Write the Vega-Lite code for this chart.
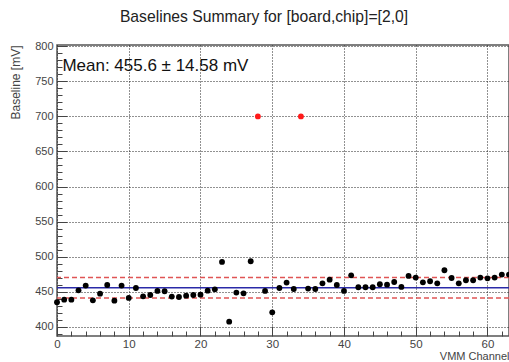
{
  "$schema": "https://vega.github.io/schema/vega-lite/v6.json",
  "width": 452,
  "height": 291,
  "autosize": "none",
  "padding": {"left": 57, "top": 45, "right": 0, "bottom": 26},
  "background": "white",
  "config": {
    "font": "Liberation Sans",
    "view": {"stroke": "#555555", "strokeWidth": 1.5},
    "axis": {"domain": false, "labelFont": "Liberation Sans", "titleFont": "Liberation Sans", "labelColor": "#444444", "titleColor": "#444444", "titleFontWeight": "normal", "tickColor": "#444444", "gridColor": "#222222", "gridDash": [1, 2], "gridWidth": 1, "labelOverlap": false, "labelBound": false, "labelFlush": false, "tickCount": 100}
  },
  "title": {"text": "Baselines Summary for [board,chip]=[2,0]", "font": "Liberation Sans", "fontSize": 15.7, "fontWeight": "normal", "color": "#222222", "anchor": "middle", "dx": -19, "offset": 15},
  "datasets": {
    "baselines": [
      {"channel": 0, "baseline": 434.8, "status": "ok"},
      {"channel": 1, "baseline": 438.6, "status": "ok"},
      {"channel": 2, "baseline": 438.6, "status": "ok"},
      {"channel": 3, "baseline": 451.9, "status": "ok"},
      {"channel": 4, "baseline": 458.6, "status": "ok"},
      {"channel": 5, "baseline": 437.6, "status": "ok"},
      {"channel": 6, "baseline": 447.1, "status": "ok"},
      {"channel": 7, "baseline": 459.5, "status": "ok"},
      {"channel": 8, "baseline": 437.1, "status": "ok"},
      {"channel": 9, "baseline": 458.6, "status": "ok"},
      {"channel": 10, "baseline": 441.0, "status": "ok"},
      {"channel": 11, "baseline": 455.2, "status": "ok"},
      {"channel": 12, "baseline": 443.3, "status": "ok"},
      {"channel": 13, "baseline": 445.2, "status": "ok"},
      {"channel": 14, "baseline": 451.0, "status": "ok"},
      {"channel": 15, "baseline": 450.5, "status": "ok"},
      {"channel": 16, "baseline": 442.9, "status": "ok"},
      {"channel": 17, "baseline": 442.4, "status": "ok"},
      {"channel": 18, "baseline": 444.3, "status": "ok"},
      {"channel": 19, "baseline": 445.2, "status": "ok"},
      {"channel": 20, "baseline": 445.7, "status": "ok"},
      {"channel": 21, "baseline": 451.4, "status": "ok"},
      {"channel": 22, "baseline": 453.3, "status": "ok"},
      {"channel": 23, "baseline": 492.4, "status": "ok"},
      {"channel": 24, "baseline": 407.1, "status": "ok"},
      {"channel": 25, "baseline": 448.6, "status": "ok"},
      {"channel": 26, "baseline": 447.6, "status": "ok"},
      {"channel": 27, "baseline": 493.3, "status": "ok"},
      {"channel": 28, "baseline": 700.0, "status": "bad"},
      {"channel": 29, "baseline": 451.0, "status": "ok"},
      {"channel": 30, "baseline": 420.5, "status": "ok"},
      {"channel": 31, "baseline": 455.2, "status": "ok"},
      {"channel": 32, "baseline": 462.9, "status": "ok"},
      {"channel": 33, "baseline": 453.8, "status": "ok"},
      {"channel": 34, "baseline": 700.0, "status": "bad"},
      {"channel": 35, "baseline": 454.3, "status": "ok"},
      {"channel": 36, "baseline": 453.8, "status": "ok"},
      {"channel": 37, "baseline": 461.9, "status": "ok"},
      {"channel": 38, "baseline": 467.1, "status": "ok"},
      {"channel": 39, "baseline": 459.5, "status": "ok"},
      {"channel": 40, "baseline": 451.0, "status": "ok"},
      {"channel": 41, "baseline": 473.3, "status": "ok"},
      {"channel": 42, "baseline": 456.2, "status": "ok"},
      {"channel": 43, "baseline": 456.2, "status": "ok"},
      {"channel": 44, "baseline": 456.2, "status": "ok"},
      {"channel": 45, "baseline": 460.5, "status": "ok"},
      {"channel": 46, "baseline": 460.0, "status": "ok"},
      {"channel": 47, "baseline": 463.8, "status": "ok"},
      {"channel": 48, "baseline": 456.7, "status": "ok"},
      {"channel": 49, "baseline": 472.4, "status": "ok"},
      {"channel": 50, "baseline": 470.0, "status": "ok"},
      {"channel": 51, "baseline": 463.3, "status": "ok"},
      {"channel": 52, "baseline": 464.8, "status": "ok"},
      {"channel": 53, "baseline": 461.9, "status": "ok"},
      {"channel": 54, "baseline": 480.5, "status": "ok"},
      {"channel": 55, "baseline": 469.5, "status": "ok"},
      {"channel": 56, "baseline": 461.9, "status": "ok"},
      {"channel": 57, "baseline": 466.2, "status": "ok"},
      {"channel": 58, "baseline": 466.2, "status": "ok"},
      {"channel": 59, "baseline": 470.0, "status": "ok"},
      {"channel": 60, "baseline": 469.0, "status": "ok"},
      {"channel": 61, "baseline": 470.0, "status": "ok"},
      {"channel": 62, "baseline": 474.3, "status": "ok"},
      {"channel": 63, "baseline": 474.3, "status": "ok"}
    ],
    "levels": [
      {"level": 455.6, "kind": "mean"},
      {"level": 470.18, "kind": "band"},
      {"level": 441.02, "kind": "band"}
    ],
    "notes": [
      {"channel": 0.75, "baseline": 772, "text": "Mean: 455.6 ± 14.58 mV"}
    ]
  },
  "layer": [
    {
      "data": {"name": "levels"},
      "transform": [{"filter": "datum.kind === 'band'"}],
      "mark": {"type": "rule", "color": "#e05555", "strokeWidth": 1.5, "strokeDash": [5, 3]},
      "encoding": {"y": {"field": "level", "type": "quantitative", "scale": {"domain": [386.7, 801.9], "nice": false, "zero": false}}}
    },
    {
      "data": {"name": "levels"},
      "transform": [{"filter": "datum.kind === 'mean'"}],
      "mark": {"type": "rule", "color": "#2a2aa8", "strokeWidth": 1.5},
      "encoding": {"y": {"field": "level", "type": "quantitative"}}
    },
    {
      "data": {"name": "baselines"},
      "mark": {"type": "circle", "size": 34, "opacity": 1},
      "encoding": {
        "x": {"field": "channel", "type": "quantitative", "scale": {"domain": [0, 63], "nice": false, "zero": false},
          "axis": {"title": "VMM Channel", "titleAnchor": "end", "titleFontSize": 11, "titlePadding": -4, "labelFontSize": 11.5, "labelPadding": 12, "tickCount": 100, "format": "d",
            "values": [0,2,4,6,8,10,12,14,16,18,20,22,24,26,28,30,32,34,36,38,40,42,44,46,48,50,52,54,56,58,60,62],
            "labelExpr": "datum.value % 10 === 0 ? datum.label : ''",
            "tickSize": {"condition": {"test": "datum.value % 10 === 0", "value": -10}, "value": -5},
            "gridOpacity": {"condition": {"test": "datum.value % 10 === 0", "value": 1}, "value": 0}}},
        "y": {"field": "baseline", "type": "quantitative", "scale": {"domain": [386.7, 801.9], "nice": false, "zero": false},
          "axis": {"title": "Baseline [mV]", "titleAnchor": "end", "titleFontSize": 12, "titlePadding": 12, "labelFontSize": 11, "labelPadding": 14, "tickCount": 100, "format": "d",
            "values": [390,400,410,420,430,440,450,460,470,480,490,500,510,520,530,540,550,560,570,580,590,600,610,620,630,640,650,660,670,680,690,700,710,720,730,740,750,760,770,780,790,800],
            "labelExpr": "datum.value % 50 === 0 ? datum.label : ''",
            "tickSize": {"condition": {"test": "datum.value % 50 === 0", "value": -10}, "value": -5},
            "gridOpacity": {"condition": {"test": "datum.value % 50 === 0", "value": 1}, "value": 0}}},
        "color": {"field": "status", "type": "nominal", "scale": {"domain": ["ok", "bad"], "range": ["#000000", "#ff1a1a"]}, "legend": null}
      }
    },
    {
      "data": {"name": "notes"},
      "mark": {"type": "text", "align": "left", "baseline": "middle", "fontSize": 17, "font": "Liberation Sans", "color": "#111111"},
      "encoding": {
        "x": {"field": "channel", "type": "quantitative"},
        "y": {"field": "baseline", "type": "quantitative"},
        "text": {"field": "text"}
      }
    }
  ]
}
